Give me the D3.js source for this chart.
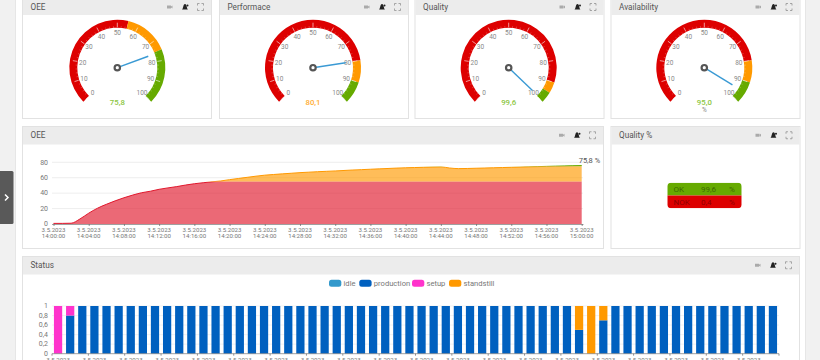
<!DOCTYPE html>
<html>
<head>
<meta charset="utf-8">
<script src="https://cdnjs.cloudflare.com/ajax/libs/d3/7.8.5/d3.min.js"></script>
<style>
html, body { margin: 0; padding: 0; background: #fff; overflow: hidden; }
svg { display: block; font-family: Roboto, sans-serif; }
</style>
</head>
<body>
<svg width="820" height="360"></svg>
<script>
// ================== DATA ==================
const gaugeTitles = ["OEE", "Performace", "Quality", "Availability"];
const gaugeValues = [75.8, 80.1, 99.6, 95.0];
const gaugeLabels = ["75,8", "80,1", "99,6", "95,0"];
const gaugeLimits = [[55, 75], [80, 90], [90, 95], [80, 90]];
const gaugeLabelColors = ["#8cc63f", "#ffad33", "#8cc63f", "#8cc63f"];
const gaugeUnits = ["", "", "", "%"];
const gaugeTicks = [0, 10, 20, 30, 40, 50, 60, 70, 80, 90, 100];

// OEE per minute, 14:00 to 15:00
const oeeMinutes = d3.range(0, 61);
const oeeValues = [0.8, 0.8, 1, 6.5, 14, 20.5, 25.5, 30, 34, 37.5, 40.5, 42.5, 45, 46.8, 48.5, 50.5, 52.2, 53.5, 54.7, 55.8,
    57.5, 59, 60.5, 62, 63.3, 64.2, 65, 65.8, 66.6, 67.2, 67.8, 68.3, 68.8, 69.4, 70, 70.5, 71, 71.5, 72, 72.5,
    72.9, 73.2, 73.5, 73.8, 74, 72.6, 71.8, 72, 72.3, 72.6, 72.9, 73.2, 73.5, 73.8, 74.1, 74.4, 74.7, 75, 75.3, 75.6, 75.8];
const oeeYTicks = [0, 20, 40, 60, 80];
const oeeXTicks = d3.range(0, 61, 4);

const qualityRows = ["OK", "NOK"];
const qualityValues = ["99,6", "0,4"];

const statusNames = ["idle", "production", "setup", "standstill"];
const statusColors = ["#3399cc", "#0060bf", "#ff33cc", "#ff9900"];
const statusMinutes = d3.range(0, 60);
const statusProduction = [0, 0.8, 1, 1, 1, 1, 1, 1, 1, 1, 1, 1, 1, 1, 1, 1, 1, 1, 1, 1,
    1, 1, 1, 1, 1, 1, 1, 1, 1, 1, 1, 1, 1, 1, 1, 1, 1, 1, 1, 1,
    1, 1, 1, 0.5, 0, 0.7, 1, 1, 1, 1, 1, 1, 1, 1, 1, 1, 1, 1, 1, 1];
const statusSetup = [1, 0.2];                // rest is 0
const statusStandstill = { 43: 0.5, 44: 1, 45: 0.3 };
const statusYTicks = [0, 0.2, 0.4, 0.6, 0.8, 1];

const fmtComma = v => String(v).replace(".", ",");
const timeLabel = m => {
    const h = 14 + Math.floor(m / 60);
    return d3.format("02")(h) + ":" + d3.format("02")(m % 60) + ":00";
};

const svg = d3.select("svg");

// ================== PAGE AND PANELS ==================
svg.append("rect").attr("width", 820).attr("height", 360).attr("fill", "#fff");
svg.append("rect").attr("width", 15).attr("height", 360).attr("fill", "#f1f1f1");
svg.append("rect").attr("x", 805).attr("width", 15).attr("height", 360).attr("fill", "#f1f1f1");
svg.append("rect").attr("x", 15).attr("width", 1).attr("height", 360).attr("fill", "#e6e6e6");
svg.append("rect").attr("x", 805).attr("width", 1).attr("height", 360).attr("fill", "#e6e6e6");

function panel(x, y, w, h, headH, title) {
    const g = svg.append("g");
    g.append("rect").attr("x", x + 0.5).attr("y", y + 0.5).attr("width", w).attr("height", h)
        .attr("fill", "#fff").attr("stroke", "#e2e2e2");
    g.append("rect").attr("x", x + 1).attr("y", y + 1).attr("width", w - 1).attr("height", headH)
        .attr("fill", "#ececec");
    g.append("text").attr("x", x + 8.5).attr("y", y + headH / 2 + 3.7).attr("font-size", 8.2)
        .attr("fill", "#555").text(title);
    // header icons
    const r = x + w;
    const cy = y + headH / 2 + 0.5;
    g.append("rect").attr("x", r - 44).attr("y", cy - 1.5).attr("width", 4).attr("height", 3).attr("fill", "#aaa");
    g.append("path").attr("d", `M${r - 40} ${cy - 0.5}l1.5 -1v3l-1.5 -1z`).attr("fill", "#aaa");
    g.append("path").attr("d", `M${r - 29} ${cy + 2.5}c1.5 -1 1 -5.5 3 -5.5s1.5 4.5 3 5.5z`).attr("fill", "#222");
    g.append("circle").attr("cx", r - 23.5).attr("cy", cy - 1.5).attr("r", 1).attr("fill", "#222");
    g.append("path").attr("d", `M${r - 13.5} ${cy - 1.5}v-2h2M${r - 9.5} ${cy - 3.5}h2v2M${r - 7.5} ${cy + 1.5}v2h-2M${r - 11.5} ${cy + 3.5}h-2v-2`)
        .attr("fill", "none").attr("stroke", "#888").attr("stroke-width", 0.7);
    return g;
}

// ================== GAUGES ==================
const gaugePanelX = [22, 219, 414.5, 610.5];
const gaugeCenterX = [117.3, 313, 508.7, 704.3];
const gaugeCenterY = 67.7;
const outerR = 48, innerR = 40;
const angle = d3.scaleLinear().domain([0, 100]).range([-135, 135]);
const rad = d => d * Math.PI / 180;

gaugeTitles.forEach((title, i) => {
    panel(gaugePanelX[i], -1, 189, 119, 15, title);
    const g = svg.append("g").attr("transform", `translate(${gaugeCenterX[i]},${gaugeCenterY})`);
    const arc = d3.arc().innerRadius(innerR).outerRadius(outerR);
    const bands = [
        [0, gaugeLimits[i][0], "#dd0000"],
        [gaugeLimits[i][0], gaugeLimits[i][1], "#ff9900"],
        [gaugeLimits[i][1], 100, "#66aa00"]
    ];
    g.selectAll(".band").data(bands).enter().append("path")
        .attr("d", d => arc({ startAngle: rad(angle(d[0])), endAngle: rad(angle(d[1])) }))
        .attr("fill", d => d[2]);

    // minor and major ticks
    d3.range(0, 101, 2).forEach(v => {
        const a = rad(angle(v));
        const major = v % 10 === 0;
        const len = major ? 5 : 1.8;
        g.append("line")
            .attr("x1", Math.sin(a) * (innerR + (major ? 0.5 : 0))).attr("y1", -Math.cos(a) * (innerR + (major ? 0.5 : 0)))
            .attr("x2", Math.sin(a) * (innerR + len)).attr("y2", -Math.cos(a) * (innerR + len))
            .attr("stroke", "#fff").attr("stroke-width", major ? 0.7 : 0.5).attr("opacity", major ? 0.85 : 0.45);
    });

    g.selectAll(".lab").data(gaugeTicks).enter().append("text")
        .attr("x", d => Math.sin(rad(angle(d))) * 35)
        .attr("y", d => -Math.cos(rad(angle(d))) * 35 + 2.3)
        .attr("text-anchor", "middle").attr("font-size", 6.5).attr("fill", "#888")
        .text(d => d);

    // needle
    const na = rad(angle(gaugeValues[i]));
    g.append("line").attr("x1", 0).attr("y1", 0)
        .attr("x2", Math.sin(na) * 33).attr("y2", -Math.cos(na) * 33)
        .attr("stroke", "#3a9ad4").attr("stroke-width", 1.4);
    g.append("circle").attr("r", 2.7).attr("fill", "#fff").attr("stroke", "#555").attr("stroke-width", 2.2);

    g.append("text").attr("y", 37.3).attr("text-anchor", "middle").attr("font-size", 7.8)
        .attr("font-weight", 500).attr("fill", gaugeLabelColors[i]).text(gaugeLabels[i]);
    if (gaugeUnits[i]) {
        g.append("text").attr("y", 44).attr("text-anchor", "middle").attr("font-size", 6.5)
            .attr("fill", "#888").text(gaugeUnits[i]);
    }
});

// ================== OEE AREA ==================
panel(22, 126, 581, 122, 17.5, "OEE");
const xOee = d3.scaleLinear().domain([0, 60]).range([53.5, 581.7]);
const yOee = d3.scaleLinear().domain([0, 80]).range([224, 162.3]);

const oeeGrid = svg.append("g");
oeeGrid.selectAll("line").data(oeeYTicks.slice(1)).enter().append("line")
    .attr("x1", 52).attr("x2", 583)
    .attr("y1", d => yOee(d)).attr("y2", d => yOee(d))
    .attr("stroke", "#e6e6e6").attr("stroke-width", 0.7);

const oeeArea = d3.area().x((d, i) => xOee(oeeMinutes[i])).y0(yOee(0)).y1(d => yOee(d)).curve(d3.curveMonotoneX);
const oeeLine = d3.line().x((d, i) => xOee(oeeMinutes[i])).y(d => yOee(d)).curve(d3.curveMonotoneX);
const oeeZones = [
    { id: "zoneRed", from: 0, to: 55, color: "#e0182d" },
    { id: "zoneOrange", from: 55, to: 75, color: "#ff9900" },
    { id: "zoneGreen", from: 75, to: 80, color: "#66aa00" }
];
const defs = svg.append("defs");
oeeZones.forEach(z => {
    defs.append("clipPath").attr("id", z.id).append("rect")
        .attr("x", 40).attr("width", 560)
        .attr("y", yOee(z.to)).attr("height", yOee(z.from) - yOee(z.to));
    const g = svg.append("g").attr("clip-path", `url(#${z.id})`);
    g.append("path").attr("d", oeeArea(oeeValues)).attr("fill", z.color).attr("fill-opacity", 0.65);
    g.append("path").attr("d", oeeLine(oeeValues)).attr("fill", "none").attr("stroke", z.color).attr("stroke-width", 1);
});

const axOee = svg.append("g").attr("transform", `translate(0,${yOee(0)})`)
    .call(d3.axisBottom(xOee).tickValues(oeeXTicks).tickSize(2).tickFormat(""));
axOee.select(".domain").attr("d", "M52,0.5H583.5").attr("stroke", "#888").attr("stroke-width", 0.8);
axOee.selectAll(".tick line").attr("stroke", "#666").attr("stroke-width", 0.7);
// date and time on two lines, one text per tick
const oeeLabs = svg.append("g").attr("font-size", 6.1).attr("fill", "#777").attr("text-anchor", "middle")
    .selectAll("text").data(oeeXTicks).enter().append("text").attr("y", 232.4);
oeeLabs.append("tspan").attr("x", d => xOee(d)).text("3.5.2023");
oeeLabs.append("tspan").attr("x", d => xOee(d)).attr("dy", 6).text(d => timeLabel(d));
svg.append("g").attr("font-size", 7).attr("fill", "#777").attr("text-anchor", "end")
    .selectAll("text").data(oeeYTicks).enter().append("text")
    .attr("x", 48).attr("y", d => yOee(d) + 2.2).text(d => d);
svg.append("text").attr("x", 578.7).attr("y", 163.3).attr("font-size", 7.5).attr("fill", "#555")
    .text(gaugeLabels[0] + " %");

// ================== QUALITY TABLE ==================
panel(610.5, 126, 189, 122, 17.5, "Quality %");
const rowY = d3.scaleBand().domain(qualityRows).range([182.7, 208.3]);
const qualityColors = ["#66aa00", "#dd0000"];
defs.append("clipPath").attr("id", "tableClip").append("rect")
    .attr("x", 667.3).attr("y", 182.7).attr("width", 74.4).attr("height", 25.6).attr("rx", 4);
const tbl = svg.append("g").attr("clip-path", "url(#tableClip)");
qualityRows.forEach((row, i) => {
    tbl.append("rect").attr("x", 667.3).attr("y", rowY(row)).attr("width", 74.4).attr("height", rowY.bandwidth())
        .attr("fill", qualityColors[i]);
    const color = i === 0 ? "#3d6b00" : "#8f0000";
    const ty = rowY(row) + rowY.bandwidth() / 2 + 3;
    tbl.append("text").attr("x", 673.5).attr("y", ty).attr("font-size", 8).attr("fill", color).text(row);
    tbl.append("text").attr("x", 701).attr("y", ty).attr("font-size", 8).attr("fill", color).text(qualityValues[i]);
    tbl.append("text").attr("x", 729).attr("y", ty).attr("font-size", 8).attr("fill", color).text("%");
});

// ================== STATUS BARS ==================
panel(22, 256, 777, 110, 17.5, "Status");
const xStatus = d3.scaleBand().domain(statusMinutes).range([52, 779]).paddingInner(0.32).paddingOuter(0.16);
const yStatus = d3.scaleLinear().domain([0, 1]).range([353.7, 306]);

svg.append("g").selectAll("line").data(statusYTicks.slice(1)).enter().append("line")
    .attr("x1", 52).attr("x2", 779)
    .attr("y1", d => yStatus(d)).attr("y2", d => yStatus(d))
    .attr("stroke", "#ececec").attr("stroke-width", 0.7);

const statusRows = statusMinutes.map((m, i) => ({
    minute: m,
    production: statusProduction[i],
    setup: statusSetup[i] || 0,
    standstill: statusStandstill[i] || 0,
    idle: 0
}));
const stack = d3.stack().keys(["production", "setup", "standstill"])(statusRows);
const colorOf = d3.scaleOrdinal().domain(statusNames).range(statusColors);
svg.append("g").selectAll("g").data(stack).enter().append("g")
    .attr("fill", d => colorOf(d.key))
    .selectAll("rect").data(d => d.filter(p => p[1] > p[0])).enter().append("rect")
    .attr("x", d => xStatus(d.data.minute))
    .attr("width", xStatus.bandwidth())
    .attr("y", d => yStatus(d[1]))
    .attr("height", d => yStatus(d[0]) - yStatus(d[1]));

const statusXTicks = statusMinutes.filter(m => m % 3 === 0);
const step = xStatus.step();
const axStatus = svg.append("g").attr("transform", "translate(0,353.7)");
axStatus.append("line").attr("x1", 52).attr("x2", 779).attr("stroke", "#888").attr("stroke-width", 0.8);
axStatus.selectAll("line.t").data(statusXTicks.concat([60])).enter().append("line").attr("class", "t")
    .attr("x1", d => 52 + d * step).attr("x2", d => 52 + d * step).attr("y1", 0).attr("y2", 2)
    .attr("stroke", "#666").attr("stroke-width", 0.7);
svg.append("g").attr("font-size", 6.1).attr("fill", "#777").attr("text-anchor", "middle")
    .selectAll("text").data(statusXTicks).enter().append("text")
    .attr("x", d => xStatus(d) + xStatus.bandwidth() / 2).attr("y", 361.5).text("3.5.2023");
svg.append("g").attr("font-size", 7).attr("fill", "#777").attr("text-anchor", "end")
    .selectAll("text").data(statusYTicks).enter().append("text")
    .attr("x", 48).attr("y", d => yStatus(d) + 2.2).text(d => fmtComma(d));

// legend
const legendX = [329, 359.3, 412, 449];
const legend = svg.append("g").selectAll("g").data(statusNames).enter().append("g")
    .attr("transform", (d, i) => `translate(${legendX[i]},283.3)`);
legend.append("rect").attr("y", -3.5).attr("width", 12.3).attr("height", 7).attr("rx", 2.5)
    .attr("fill", d => colorOf(d));
legend.append("text").attr("x", 14.5).attr("y", 2.5).attr("font-size", 7.6).attr("fill", "#777").text(d => d);

// ================== SIDE HANDLE ==================
svg.append("rect").attr("x", -3).attr("y", 171).attr("width", 16.5).attr("height", 53).attr("rx", 1.5).attr("fill", "#595959");
svg.append("path").attr("d", "M5 194.5l3 3l-3 3").attr("fill", "none").attr("stroke", "#fff").attr("stroke-width", 1.5);
</script>
</body>
</html>
